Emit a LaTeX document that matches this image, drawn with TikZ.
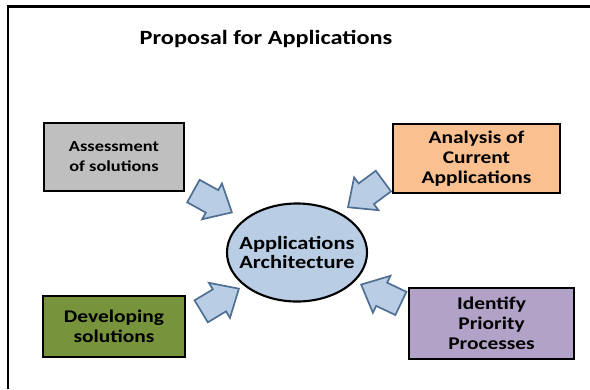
\documentclass[tikz,border=0pt]{standalone}
\usepackage{fontspec}
\newfontfamily\propfont{Carlito}[FakeStretch=1.2]
\usetikzlibrary{shapes.arrows,shapes.geometric}
\definecolor{boxgray}{HTML}{BFBFBF}
\definecolor{boxorange}{HTML}{FAC08F}
\definecolor{boxgreen}{HTML}{77933C}
\definecolor{boxpurple}{HTML}{B3A2C7}
\definecolor{archblue}{HTML}{B9CDE5}
\definecolor{arrowline}{HTML}{4F6F93}

\begin{document}
\begin{tikzpicture}[x=0.025cm, y=-0.025cm,
  box/.style={draw, line width=1.8pt, align=center, inner sep=0pt,
    font=\propfont\bfseries\fontsize{12.7}{14.2}\selectfont},
  blockarrow/.style={single arrow, draw=arrowline, fill=archblue, line width=1.2pt,
    minimum height=1.1cm, inner xsep=0pt, inner ysep=0.3cm, anchor=tip,
    single arrow head extend=0.19cm, single arrow tip angle=84}]
\useasboundingbox (0,0) rectangle (590,389);
\draw[line width=1.8pt] (8,389) -- (8,6.5) -- (590,6.5);
\node[font=\propfont\bfseries\fontsize{14.4}{16}\selectfont] (title) at (266,39) {Proposal for Applications};
\node[box, fill=boxgray, minimum width=3.5cm, minimum height=1.7cm,
  font=\propfont\bfseries\fontsize{10.9}{14.2}\selectfont] (assess) at (114,157) {Assessment\\of solutions};
\node[box, fill=boxorange, minimum width=4.175cm, minimum height=1.725cm] (analysis) at (476.5,158.5) {Analysis of\\Current\\Applications};
\node[box, fill=boxgreen, minimum width=3.55cm, minimum height=1.525cm] (develop) at (114,326.5) {Developing\\solutions};
\node[box, fill=boxpurple, minimum width=4.125cm, minimum height=1.775cm] (identify) at (491.5,323.5) {Identify\\Priority\\Processes};
\node[ellipse, draw, line width=1.5pt, fill=archblue, minimum width=3.5cm, minimum height=2.45cm, inner sep=0pt] (arch) at (297,252.5) {};
\node[align=center, font=\propfont\bfseries\fontsize{13.3}{14.2}\selectfont] (archtext) at (arch.center) {Applications\\Architecture};
% block arrows towards the architecture
\node[blockarrow, rotate=-29] (a1) at (233,213) {};
\node[blockarrow, rotate=216.5] (a2) at (347,208) {};
\node[blockarrow, rotate=31] (a3) at (240,288) {};
\node[blockarrow, rotate=154.6] (a4) at (360,284) {};
\end{tikzpicture}
\end{document}
